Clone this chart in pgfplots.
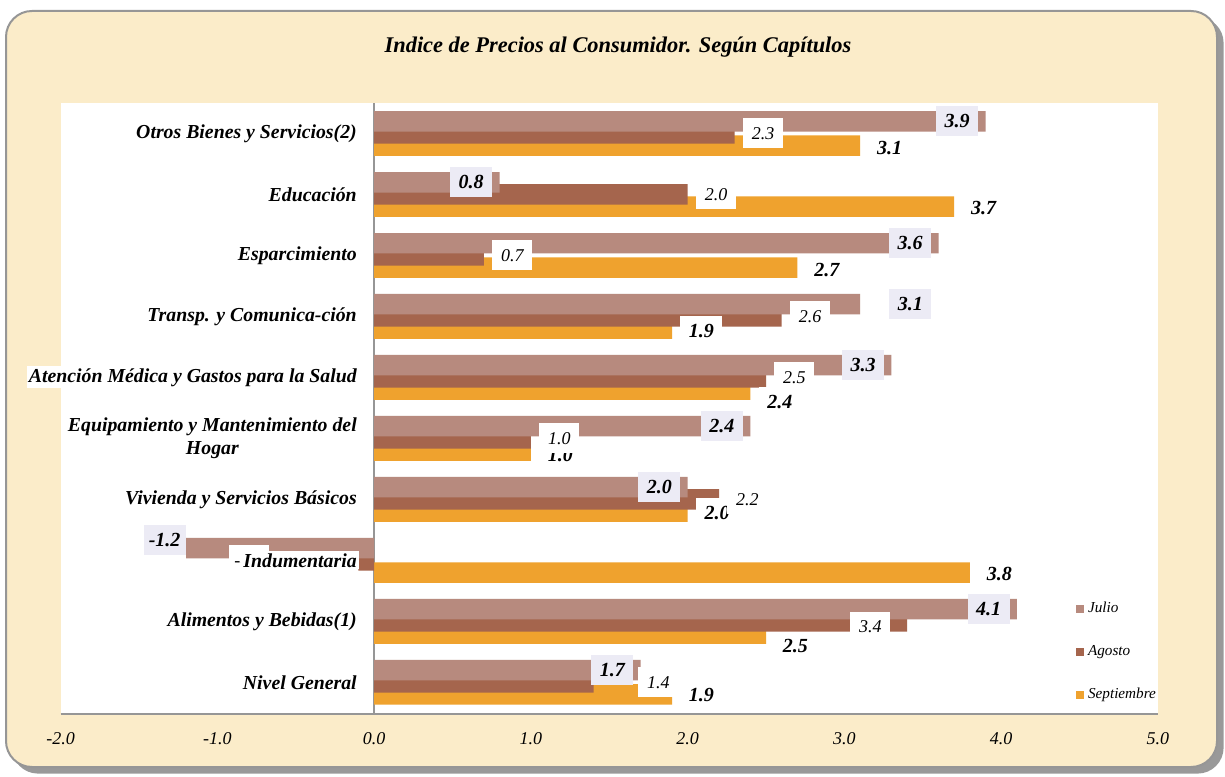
\documentclass[border=0pt]{standalone}
\usepackage{fontspec}
\setmainfont{Liberation Serif}
\usepackage{pgfplots}
\usepackage{pgfplotstable}
\pgfplotsset{compat=1.18}
\definecolor{julio}{RGB}{183,138,126}
\definecolor{agosto}{RGB}{165,101,77}
\definecolor{sept}{RGB}{239,162,46}
\definecolor{cream}{RGB}{251,236,201}
\definecolor{lav}{RGB}{236,235,245}
\definecolor{axgray}{RGB}{150,150,150}
\definecolor{framegray}{RGB}{150,150,150}

\pgfplotstableread{
idx julio agosto sept
0 1.7 1.4 1.9
1 4.1 3.4 2.5
2 -1.2 -0.1 3.8
3 2.0 2.2 2.0
4 2.4 1.0 1.0
5 3.3 2.5 2.4
6 3.1 2.6 1.9
7 3.6 0.7 2.7
8 0.8 2.0 3.7
9 3.9 2.3 3.1
}\datatable

\begin{document}
\begin{tikzpicture}[
  jl/.style={fill=lav, inner sep=0pt, minimum width=21pt, minimum height=15pt, font=\bfseries\itshape\fontsize{10}{12}\selectfont},
  al/.style={fill=white, inner sep=0pt, minimum width=20pt, minimum height=15pt, font=\itshape\fontsize{9}{11}\selectfont},
  sl/.style={fill=white, inner sep=0pt, minimum width=21pt, minimum height=15pt, font=\bfseries\itshape\fontsize{10}{12}\selectfont},
  catlbl/.style={font=\bfseries\itshape\fontsize{9.9}{11.8}\selectfont, align=center, fill=white, inner sep=1pt, anchor=east, xshift=-7.5pt}
]
\path[use as bounding box] (0pt,0pt) rectangle (612.5pt,388pt);
\fill[black!40, rounded corners=13pt] (6pt,1.2pt) rectangle (611.8pt,379.5pt);
\filldraw[fill=cream, draw=framegray, line width=1pt, rounded corners=13pt] (3pt,4.5pt) rectangle (608.5pt,382.5pt);
\node[font=\bfseries\itshape\fontsize{11.2}{13}\selectfont] at (309pt,364.5pt) {Indice de Precios al Consumidor. Según Capítulos};

\begin{axis}[
  at={(30.3pt,31pt)}, anchor=south west,
  scale only axis, width=548.7pt, height=305.5pt,
  xmin=-2, xmax=5, ymin=-0.52, ymax=9.5,
  axis background/.style={fill=white},
  axis x line=bottom, axis y line=middle,
  axis line style={-, draw=axgray, line width=1.1pt},
  hide obscured x ticks=false,
  xtick={-2,-1,0,1,2,3,4,5},
  xticklabels={-2.0,-1.0,0.0,1.0,2.0,3.0,4.0,5.0},
  ytick={0,1,3,4,5,6,7,8,9},
  yticklabels={Nivel General, Alimentos y Bebidas(1), Vivienda y Servicios Básicos, {Equipamiento y Mantenimiento del\\Hogar}, Atención Médica y Gastos para la Salud, Transp. y Comunica-ción, Esparcimiento, Educación, Otros Bienes y Servicios(2)},
  major tick length=0pt,
  xticklabel style={font=\itshape\fontsize{9}{10}\selectfont, anchor=center, yshift=-12.5pt},
  yticklabel style={catlbl},
  xbar, bar width=0.336,
  clip=false,
  reverse legend,
  legend cell align=left,
  legend image code/.code={\draw[#1, draw=none] (0pt,-2pt) rectangle (4pt,2pt);},
  legend style={at={(rel axis cs:0.925,0.1905)}, anchor=north west, draw=none, fill=none,
    font=\itshape\fontsize{7.6}{8.5}\selectfont, row sep=10.8pt, inner sep=0pt,
    /tikz/every even column/.append style={column sep=1pt}},
]
\addplot[xbar, bar shift=-0.2, fill=sept, draw=none] table[x=sept, y=idx] {\datatable};
\addplot[xbar, bar shift=0, fill=agosto, draw=none] table[x=agosto, y=idx] {\datatable};
\addplot[xbar, bar shift=0.2, fill=julio, draw=none] table[x=julio, y=idx] {\datatable};
\legend{Septiembre, Agosto, Julio}

% Septiembre labels
\node[sl, anchor=west, xshift=4pt, yshift=-0.5pt] at (axis cs:1.9,-0.2) {1.9};
\node[sl, anchor=west, xshift=4pt, yshift=-6.5pt] at (axis cs:2.5,0.8) {2.5};
\node[sl, anchor=west, xshift=4pt, yshift=-0.5pt] at (axis cs:3.8,1.8) {3.8};
\node[sl, anchor=west, xshift=4pt, yshift=-0.5pt] at (axis cs:2.0,2.8) {2.0};
\node[sl, anchor=west, xshift=4pt, yshift=-2pt] at (axis cs:1.0,3.8) {1.0};
\node[sl, anchor=west, xshift=4pt, yshift=-6pt] at (axis cs:2.4,4.8) {2.4};
\node[sl, anchor=west, xshift=4pt, yshift=-1.3pt] at (axis cs:1.9,5.8) {1.9};
\node[sl, anchor=west, xshift=4pt, yshift=-1pt] at (axis cs:2.7,6.8) {2.7};
\node[sl, anchor=west, xshift=4pt, yshift=-0.5pt] at (axis cs:3.7,7.8) {3.7};
\node[sl, anchor=west, xshift=4pt, yshift=-1pt] at (axis cs:3.1,8.8) {3.1};

% Agosto labels
\node[al] at (axis cs:1.813,0) {1.4};
\node[al] at (axis cs:3.165,0.907) {3.4};
\node[al] at (axis cs:-0.80,2) {-0.1};
\node[al, anchor=west, xshift=4pt] at (axis cs:2.2,3) {2.2};
\node[al, anchor=west, xshift=4pt] at (axis cs:1.0,4) {1.0};
\node[al, anchor=west, xshift=4pt] at (axis cs:2.5,5) {2.5};
\node[al, anchor=west, xshift=4pt] at (axis cs:2.6,6) {2.6};
\node[al, anchor=west, xshift=4pt] at (axis cs:0.7,7) {0.7};
\node[al, anchor=west, xshift=4pt] at (axis cs:2.0,8) {2.0};
\node[al, anchor=west, xshift=4pt] at (axis cs:2.3,9) {2.3};

% Julio labels
\node[jl, anchor=east, xshift=-3.5pt] at (axis cs:1.7,0.2) {1.7};
\node[jl, anchor=east, xshift=-3.5pt] at (axis cs:4.1,1.2) {4.1};
\node[jl, anchor=east, yshift=4pt] at (axis cs:-1.2,2.2) {-1.2};
\node[jl, anchor=east, xshift=-3.5pt] at (axis cs:2.0,3.2) {2.0};
\node[jl, anchor=east, xshift=-3.5pt] at (axis cs:2.4,4.2) {2.4};
\node[jl, anchor=east, xshift=-3.5pt] at (axis cs:3.3,5.2) {3.3};
\node[jl] at (axis cs:3.42,6.2) {3.1};
\node[jl, anchor=east, xshift=-3.5pt] at (axis cs:3.6,7.2) {3.6};
\node[jl, anchor=east, xshift=-3.5pt] at (axis cs:0.8,8.2) {0.8};
\node[jl, anchor=east, xshift=-3.5pt] at (axis cs:3.9,9.2) {3.9};

\coordinate (indu) at (axis cs:0,2);
\end{axis}
\node[catlbl] at (indu) {Indumentaria};
\end{tikzpicture}
\end{document}
